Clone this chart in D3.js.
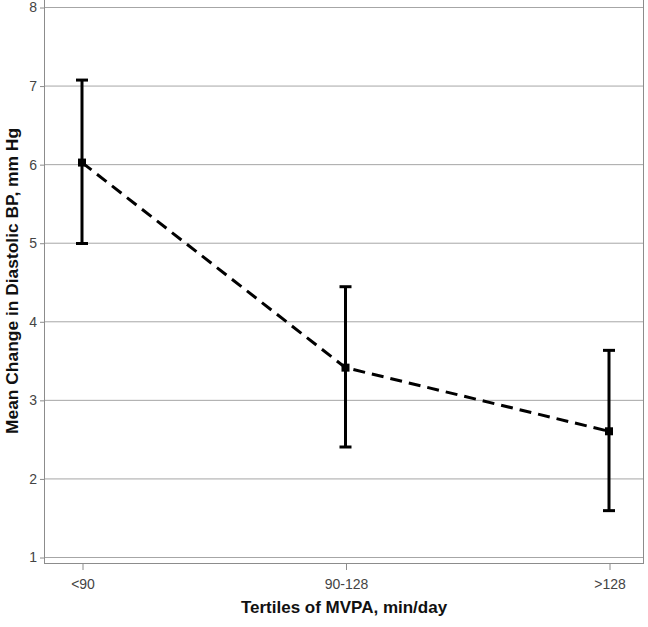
<!DOCTYPE html>
<html><head><meta charset="utf-8">
<script src="https://cdn.jsdelivr.net/npm/d3@7"></script>
<style>body{margin:0;background:#fff}svg{display:block}</style>
</head><body>
<script>
const categories = ["<90", "90-128", ">128"];
const means = [6.02, 3.41, 2.60];
const lower = [4.99, 2.40, 1.59];
const upper = [7.07, 4.44, 3.63];
const yTicks = [1, 2, 3, 4, 5, 6, 7, 8];

const W = 648, H = 627;
const frame = {left: 44, right: 643, top: 0, bottom: 563};
const svg = d3.select("body").append("svg").attr("width", W).attr("height", H);

const x = d3.scalePoint().domain(categories).range([82, 609]);
const y = d3.scaleLinear().domain([1, 8]).range([557, 7]);

// gridlines
svg.append("g").selectAll("line").data(yTicks).join("line")
  .attr("x1", frame.left).attr("x2", frame.right)
  .attr("y1", d => y(d) + 0.5).attr("y2", d => y(d) + 0.5)
  .attr("stroke", "#a6a6a6").attr("stroke-width", 1);

// frame
svg.append("rect").attr("x", frame.left + 0.5).attr("y", frame.top - 2)
  .attr("width", frame.right - frame.left).attr("height", frame.bottom - frame.top + 2.5)
  .attr("fill", "none").attr("stroke", "#8c8c8c").attr("stroke-width", 1);

// y axis
const yAxis = d3.axisLeft(y).tickValues(yTicks).tickSize(4).tickPadding(3).tickFormat(d3.format("d"));
const gy = svg.append("g").attr("transform", `translate(${frame.left},0.5)`).call(yAxis);
gy.select(".domain").remove();
gy.selectAll(".tick line").attr("stroke", "#8c8c8c");
gy.selectAll(".tick text").attr("fill", "#444").attr("font-family", "Arial, Liberation Sans, sans-serif").attr("font-size", 14);

// x axis
const xAxis = d3.axisBottom(x).tickSize(7).tickPadding(9);
const gx = svg.append("g").attr("transform", `translate(0.5,${frame.bottom})`).call(xAxis);
gx.select(".domain").remove();
gx.selectAll(".tick line").attr("stroke", "#8c8c8c");
gx.selectAll(".tick text").attr("fill", "#444").attr("font-family", "Arial, Liberation Sans, sans-serif").attr("font-size", 14);

// dashed line
svg.append("path").datum(categories.map((c, i) => [x(c), y(means[i])]))
  .attr("d", d3.line()).attr("fill", "none").attr("stroke", "#000")
  .attr("stroke-width", 3).attr("stroke-dasharray", "12,7");

// error bars
const eb = svg.append("g").selectAll("g").data(categories).join("g");
eb.append("line").attr("x1", d => x(d)).attr("x2", d => x(d))
  .attr("y1", (d, i) => y(upper[i])).attr("y2", (d, i) => y(lower[i]))
  .attr("stroke", "#000").attr("stroke-width", 3);
eb.append("line").attr("x1", d => x(d) - 6).attr("x2", d => x(d) + 6)
  .attr("y1", (d, i) => y(upper[i])).attr("y2", (d, i) => y(upper[i]))
  .attr("stroke", "#000").attr("stroke-width", 3);
eb.append("line").attr("x1", d => x(d) - 6).attr("x2", d => x(d) + 6)
  .attr("y1", (d, i) => y(lower[i])).attr("y2", (d, i) => y(lower[i]))
  .attr("stroke", "#000").attr("stroke-width", 3);
eb.append("rect").attr("x", d => x(d) - 4).attr("y", (d, i) => y(means[i]) - 4)
  .attr("width", 8).attr("height", 8).attr("fill", "#000");

// axis titles
svg.append("text").attr("x", 344).attr("y", 613).attr("text-anchor", "middle")
  .attr("font-family", "Arial, Liberation Sans, sans-serif").attr("font-size", 17).attr("font-weight", "bold")
  .attr("fill", "#111").text("Tertiles of MVPA, min/day");
svg.append("text").attr("transform", "translate(18,281) rotate(-90)").attr("text-anchor", "middle")
  .attr("font-family", "Arial, Liberation Sans, sans-serif").attr("font-size", 17.4).attr("font-weight", "bold")
  .attr("fill", "#111").text("Mean Change in Diastolic BP, mm Hg");
</script>
</body></html>
